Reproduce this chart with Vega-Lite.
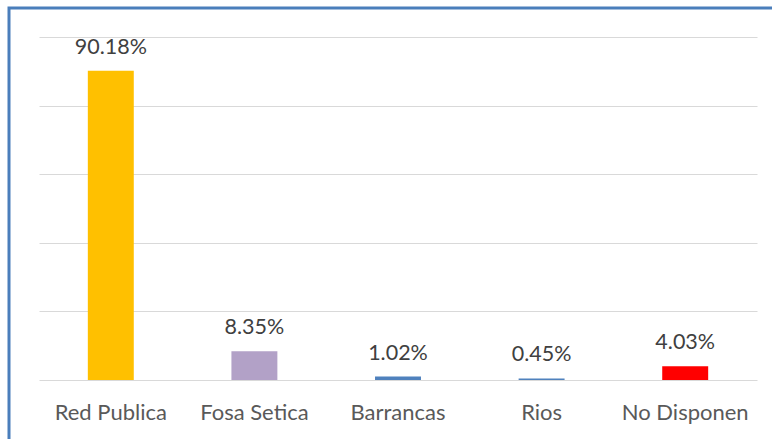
{
  "$schema": "https://vega.github.io/schema/vega-lite/v6.json",
  "width": 781,
  "height": 445,
  "autosize": {"type": "none"},
  "padding": {"left": 9, "top": 8, "right": 0, "bottom": 0},
  "background": "white",
  "config": {
    "view": {"stroke": "#4a7ebb", "strokeWidth": 3},
    "font": "Lato"
  },
  "data": {
    "values": [
      {"category": "Red Publica", "share": 0.9018},
      {"category": "Fosa Setica", "share": 0.0835},
      {"category": "Barrancas", "share": 0.0102},
      {"category": "Rios", "share": 0.0045},
      {"category": "No Disponen", "share": 0.0403}
    ]
  },
  "encoding": {
    "x": {
      "field": "category",
      "type": "nominal",
      "sort": null,
      "scale": {"range": [30, 748], "paddingInner": 0.68, "paddingOuter": 0.34},
      "axis": {
        "title": null,
        "orient": "bottom",
        "offset": -73,
        "domain": false,
        "ticks": false,
        "grid": false,
        "labelAngle": 0,
        "labelFont": "Lato",
        "labelFontSize": 22,
        "labelColor": "#595959",
        "labelPadding": 39,
        "labelBaseline": "alphabetic"
      }
    },
    "y": {
      "field": "share",
      "type": "quantitative",
      "scale": {"domain": [0, 1], "range": [372, 29], "nice": false},
      "axis": {
        "title": null,
        "values": [0, 0.2, 0.4, 0.6, 0.8, 1],
        "labels": false,
        "ticks": false,
        "domain": false,
        "grid": true,
        "gridColor": "#d9d9d9",
        "gridWidth": 1
      }
    }
  },
  "layer": [
    {
      "mark": {"type": "bar"},
      "encoding": {
        "color": {
          "field": "category",
          "type": "nominal",
          "scale": {
            "domain": ["Red Publica", "Fosa Setica", "Barrancas", "Rios", "No Disponen"],
            "range": ["#ffc000", "#b2a1c7", "#4f81bd", "#4f81bd", "#ff0000"]
          },
          "legend": null
        }
      }
    },
    {
      "mark": {"type": "text", "baseline": "alphabetic", "dy": -17, "fontSize": 21.5, "color": "#404040", "font": "Lato"},
      "encoding": {
        "text": {"field": "share", "type": "quantitative", "format": ".2%"}
      }
    }
  ]
}
